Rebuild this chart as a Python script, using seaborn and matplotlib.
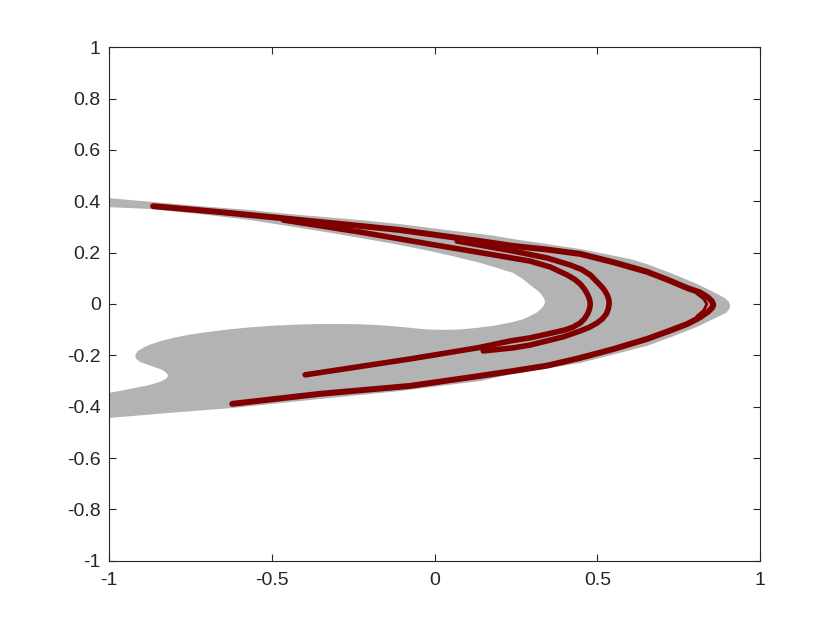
import matplotlib
matplotlib.use("Agg")
import matplotlib.pyplot as plt
import seaborn as sns

# ---- grey region boundary (closed polygon, data coordinates) ----
region_x = [-1.000, -0.865, -0.720, -0.567, -0.444, -0.229, -0.106, 0.063, 0.171, 0.241,
            0.447, 0.601, 0.653, 0.730, 0.806, 0.862, 0.889, 0.903, 0.908, 0.905, 0.895,
            0.862, 0.806, 0.730, 0.653, 0.447, 0.241, 0.140, -0.106, -0.352, -0.619,
            -0.813, -1.000,
            -1.000, -0.960, -0.926, -0.880, -0.843, -0.825, -0.819, -0.824, -0.840,
            -0.874, -0.905, -0.918, -0.920, -0.912, -0.895, -0.874, -0.840, -0.803,
            -0.760, -0.720, -0.640, -0.567, -0.490, -0.413, -0.350, -0.290, -0.230,
            -0.177, -0.125, -0.075, -0.025, 0.026, 0.080, 0.131, 0.190, 0.241, 0.270,
            0.293, 0.315, 0.327, 0.336, 0.339, 0.336, 0.324, 0.310, 0.293, 0.270,
            0.241, 0.190, 0.140, 0.060, -0.014, -0.120, -0.229, -0.320, -0.413, -0.567,
            -0.720, -0.874, -1.000]
region_y = [0.412, 0.397, 0.381, 0.366, 0.350, 0.327, 0.311, 0.284, 0.268, 0.253,
            0.214, 0.175, 0.155, 0.118, 0.078, 0.043, 0.025, 0.010, -0.006, -0.020, -0.035,
            -0.055, -0.089, -0.127, -0.163, -0.230, -0.272, -0.300, -0.339, -0.370, -0.405,
            -0.424, -0.444,
            -0.346, -0.337, -0.328, -0.317, -0.303, -0.291, -0.280, -0.268, -0.255,
            -0.240, -0.226, -0.212, -0.198, -0.183, -0.170, -0.158, -0.144, -0.132,
            -0.121, -0.113, -0.100, -0.091, -0.084, -0.080, -0.078, -0.078, -0.079,
            -0.082, -0.087, -0.093, -0.099, -0.101, -0.099, -0.093, -0.083, -0.070, -0.060,
            -0.047, -0.032, -0.019, -0.005, 0.008, 0.022, 0.043, 0.058, 0.074, 0.098,
            0.121, 0.141, 0.160, 0.185, 0.206, 0.233, 0.257, 0.277, 0.296, 0.327,
            0.350, 0.370, 0.377]

# ---- attractor strands ----
outer_x = [-0.622, -0.352, -0.075, 0.140, 0.241, 0.346, 0.447, 0.548, 0.653, 0.720,
           0.776, 0.815, 0.840, 0.852, 0.856, 0.852, 0.840, 0.815, 0.776, 0.720, 0.653,
           0.548, 0.447, 0.346, 0.241, 0.140, -0.106, -0.229, -0.444, -0.659, -0.865]
outer_y = [-0.389, -0.350, -0.319, -0.280, -0.261, -0.240, -0.210, -0.176, -0.136, -0.105,
           -0.078, -0.052, -0.030, -0.015, -0.004, 0.010, 0.025, 0.045, 0.062, 0.092, 0.125,
           0.163, 0.195, 0.212, 0.226, 0.245, 0.288, 0.304, 0.331, 0.358, 0.381]

fold1_x = [-0.465, -0.229, -0.014, 0.201, 0.293, 0.355, 0.407, 0.430, 0.447, 0.460,
           0.470, 0.476, 0.478, 0.476, 0.470, 0.460, 0.447, 0.425, 0.401, 0.346, 0.293,
           0.232, 0.131, -0.075, -0.398]
fold1_y = [0.327, 0.280, 0.233, 0.187, 0.167, 0.144, 0.113, 0.096, 0.078, 0.058,
           0.036, 0.017, 0.000, -0.018, -0.038, -0.058, -0.074, -0.090, -0.101, -0.117,
           -0.132, -0.144, -0.171, -0.214, -0.276]

fold2_x = [0.069, 0.171, 0.241, 0.346, 0.416, 0.452, 0.478, 0.508, 0.521, 0.530, 0.535,
           0.536, 0.533, 0.527, 0.515, 0.499, 0.475, 0.447, 0.395, 0.293, 0.241, 0.149]
fold2_y = [0.245, 0.222, 0.206, 0.179, 0.152, 0.134, 0.113, 0.074, 0.055, 0.035, 0.017,
           0.000, -0.020, -0.039, -0.058, -0.074, -0.091, -0.105, -0.128, -0.160, -0.171,
           -0.183]

tip_x = [0.805, 0.826, 0.836, 0.827, 0.805]
tip_y = [0.040, 0.020, 0.000, -0.024, -0.048]

xticks = [-1, -0.5, 0, 0.5, 1]
xtick_labels = ['-1', '-0.5', '0', '0.5', '1']
yticks = [-1, -0.8, -0.6, -0.4, -0.2, 0, 0.2, 0.4, 0.6, 0.8, 1]
ytick_labels = ['-1', '-0.8', '-0.6', '-0.4', '-0.2', '0', '0.2', '0.4', '0.6', '0.8', '1']

sns.set_style("white")
plt.rcParams['font.family'] = ['Liberation Sans', 'DejaVu Sans']
plt.rcParams['axes.unicode_minus'] = False

fig = plt.figure(figsize=(8.4, 6.3), dpi=100)
ax = fig.add_axes([0.13, 0.11, 0.775, 0.815])

ax.fill(region_x, region_y, color='#b3b3b3', lw=0, zorder=1)

red = '#800000'
for xs, ys, lw in [(outer_x, outer_y, 4.3), (fold1_x, fold1_y, 4.0),
                   (fold2_x, fold2_y, 4.0), (tip_x, tip_y, 2.0)]:
    sns.lineplot(x=xs, y=ys, sort=False, estimator=None, color=red, lw=lw, ax=ax,
                 solid_capstyle='round', solid_joinstyle='round', zorder=3)

ax.set_xlim(-1, 1)
ax.set_ylim(-1, 1)
ax.set_xticks(xticks)
ax.set_xticklabels(xtick_labels)
ax.set_yticks(yticks)
ax.set_yticklabels(ytick_labels)
ax.set_xlabel('')
ax.set_ylabel('')

for s in ax.spines.values():
    s.set_visible(True)
    s.set_color('#262626')
    s.set_linewidth(0.8)
ax.tick_params(axis='both', which='both', direction='in', length=5, width=0.8,
               color='#262626', labelcolor='#262626', labelsize=14,
               top=True, right=True, bottom=True, left=True)
ax.tick_params(axis='x', pad=8)
ax.tick_params(axis='y', pad=6)

fig.savefig('out.png', dpi=100)
